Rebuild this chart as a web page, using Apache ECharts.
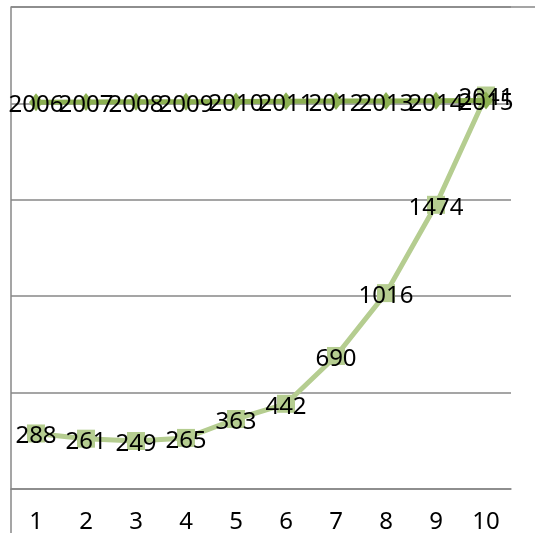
<!DOCTYPE html>
<html>
<head>
<meta charset="utf-8">
<script src="https://cdn.jsdelivr.net/npm/echarts@6/dist/echarts.min.js"></script>
<style>
html,body{margin:0;padding:0;background:#fff;}
#c{width:535px;height:533px;}
</style>
</head>
<body>
<div id="c"></div>
<script>
const categories = ['1','2','3','4','5','6','7','8','9','10'];
const years = [2006,2007,2008,2009,2010,2011,2012,2013,2014,2015];
const values = [288,261,249,265,363,442,690,1016,1474,2041];
const yMin = 0, yMax = 2500, yInterval = 500;

const FONT = "'Noto Sans','Open Sans',sans-serif";
const chart = echarts.init(document.getElementById('c'), null, {renderer:'canvas'});
const labelStyle = {show:true, position:'inside', offset:[0,3], color:'#000', fontFamily:FONT, fontSize:24};
chart.setOption({
  animation:false,
  backgroundColor:'#fff',
  grid:{left:11, right:24, top:7, bottom:44, containLabel:false, outerBoundsMode:'none'},
  xAxis:{
    type:'category', data:categories, boundaryGap:true,
    axisLine:{show:true, lineStyle:{color:'#878787', width:1.5}},
    axisTick:{show:false},
    axisLabel:{color:'#000', fontFamily:FONT, fontSize:24, margin:20, lineHeight:26}
  },
  yAxis:{
    type:'value', min:yMin, max:yMax, interval:yInterval,
    axisLine:{show:true, lineStyle:{color:'#878787', width:1.5}},
    axisTick:{show:false},
    axisLabel:{show:false},
    splitLine:{show:true, lineStyle:{color:'#878787', width:1.5}}
  },
  graphic:[
    {type:'line', shape:{x1:11, y1:489, x2:11, y2:533}, style:{stroke:'#878787', lineWidth:1.5}, z:0},
    {type:'line', shape:{x1:11, y1:7, x2:535, y2:7}, style:{stroke:'#878787', lineWidth:1.5}, z:0}
  ],
  series:[
    {
      name:'Year', type:'line', data:years,
      symbol:'diamond', symbolSize:[14,18],
      itemStyle:{color:'#8CB052'},
      lineStyle:{color:'#8CB052', width:5},
      label:labelStyle, z:3
    },
    {
      name:'Value', type:'line', data:values,
      symbol:'rect', symbolSize:18,
      itemStyle:{color:'#B5CD90'},
      lineStyle:{color:'#B5CD90', width:5},
      label:labelStyle, z:2
    }
  ]
});
</script>
</body>
</html>
